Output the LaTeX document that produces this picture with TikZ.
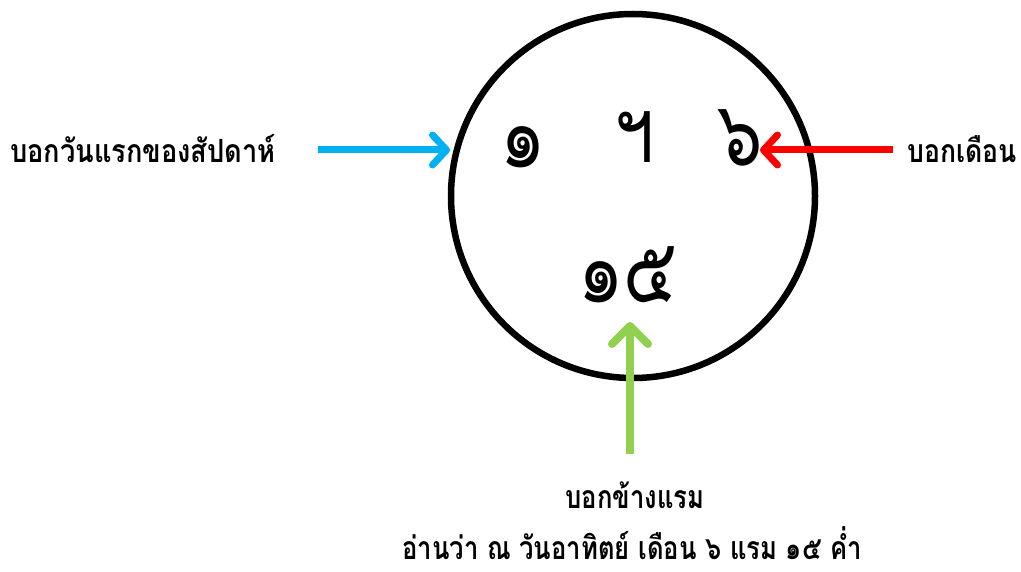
\documentclass[tikz,border=0pt]{standalone}
\usepackage{fontspec}
\usepackage{graphicx}
\usetikzlibrary{arrows.meta}
\newfontfamily\thai[Script=Thai]{Loma}
\definecolor{cblue}{HTML}{00B0F0}
\definecolor{cgreen}{HTML}{92D050}
\definecolor{cred}{HTML}{FF0000}
\newcommand{\lbltext}[2]{\scalebox{#1}[1]{#2}}
\newcommand{\digtext}[1]{\scalebox{0.85}[1.08]{#1}}
\begin{document}
\begin{tikzpicture}[x=1pt,y=-1pt,
  lbl/.style={font=\thai\bfseries\fontsize{32}{38}\selectfont, inner sep=0pt},
  dig/.style={font=\thai\fontsize{84}{90}\selectfont, inner sep=0pt},
  arr/.style={line width=7pt, -{Straight Barb[round,length=14pt,width=30pt]}}]
\useasboundingbox (0,0) rectangle (1021,572);
\node[circle, draw, line width=6.5pt, minimum size=364pt, inner sep=0pt] (c) at (633,196) {};
\node[dig, anchor=base] (d1) at (523,168) {\digtext{๑}};
\node[dig, anchor=base] (d2) at (635,163) {\digtext{ฯ}};
\node[dig, anchor=base] (d3) at (740,166) {\digtext{๖}};
\node[dig, anchor=base] (d4) at (628,303) {\digtext{๑๕}};
\node[lbl, anchor=base west] (l1) at (10,163) {\lbltext{0.85}{บอกวันแรกของสัปดาห์}};
\node[lbl, anchor=base east] (l2) at (1017,163) {\lbltext{0.83}{บอกเดือน}};
\node[lbl, anchor=base] (l3) at (635,508) {\lbltext{0.80}{บอกข้างแรม}};
\node[lbl, anchor=base, text depth=0pt] (l4) at (632,559) {\lbltext{0.80}{อ่านว่า ณ วันอาทิตย์ เดือน ๖ แรม ๑๕ ค่ำ}};
\coordinate (bs) at (318,150);
\coordinate (bt) at (450,150);
\coordinate (rs) at (893,150);
\coordinate (rt) at (760,150);
\coordinate (gs) at (630,454);
\coordinate (gt) at (630,322);
\draw[arr, cblue] (bs) -- (bt);
\draw[arr, cred] (rs) -- (rt);
\draw[arr, cgreen, line width=8pt, -{Straight Barb[round,length=18pt,width=36pt]}] (gs) -- (gt);
\end{tikzpicture}
\end{document}
